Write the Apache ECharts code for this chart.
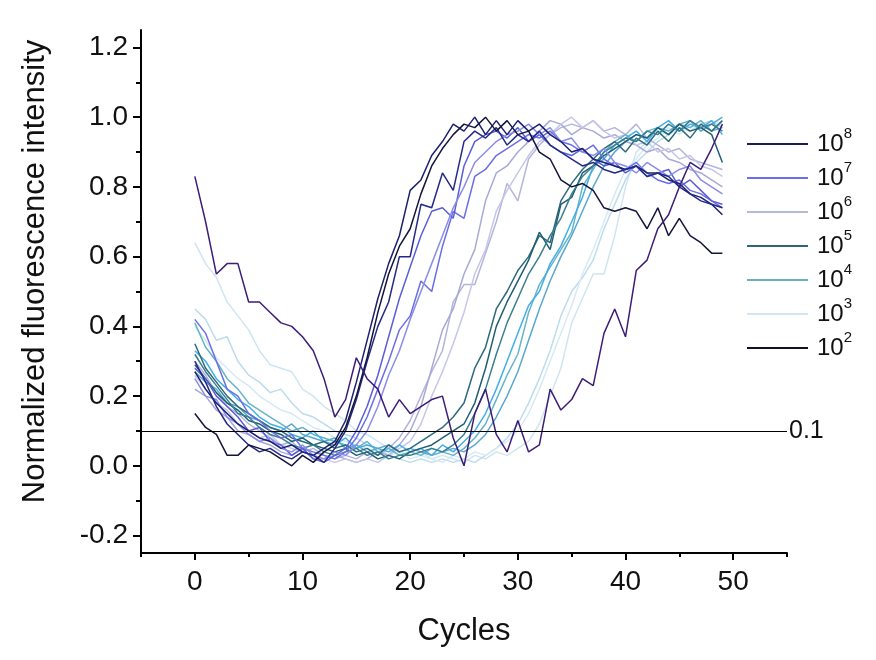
<!DOCTYPE html>
<html>
<head>
<meta charset="utf-8">
<script src="https://cdn.jsdelivr.net/npm/echarts@6/dist/echarts.min.js"></script>
<style>
html,body{margin:0;padding:0;background:#fff;}
#chart{width:876px;height:660px;}
</style>
</head>
<body>
<div id="chart"></div>
<script>
// ---- data ----
const cycles = [0,1,2,3,4,5,6,7,8,9,10,11,12,13,14,15,16,17,18,19,20,21,22,23,24,25,26,27,28,29,30,31,32,33,34,35,36,37,38,39,40,41,42,43,44,45,46,47,48,49];
const legendNames = ['10^8','10^7','10^6','10^5','10^4','10^3','10^2'];
const xTickLabels = [0,10,20,30,40,50];
const xMinorTicks = [-5,5,15,25,35,45,55];
const yTickLabels = [-0.2,0,0.2,0.4,0.6,0.8,1.0,1.2];
const yMinorTicks = [-0.1,0.1,0.3,0.5,0.7,0.9,1.1];
const threshold = 0.1;
const thresholdLabel = '0.1';

// 10^8 replicates
const r8a = [0.27,0.22,0.18,0.15,0.12,0.10,0.08,0.07,0.05,0.06,0.04,0.03,0.05,0.07,0.13,0.24,0.36,0.48,0.58,0.66,0.79,0.82,0.89,0.93,0.98,0.96,1.00,0.95,0.99,0.95,0.99,0.96,0.98,0.95,0.93,0.90,0.91,0.88,0.87,0.86,0.85,0.86,0.84,0.84,0.82,0.81,0.78,0.77,0.75,0.72];
const r8b = [0.30,0.24,0.17,0.12,0.09,0.06,0.04,0.05,0.03,0.02,0.04,0.03,0.01,0.05,0.10,0.19,0.30,0.40,0.47,0.60,0.60,0.75,0.74,0.84,0.79,0.93,0.96,0.94,0.97,0.92,0.95,0.93,0.96,0.92,0.90,0.88,0.86,0.87,0.85,0.84,0.85,0.86,0.83,0.84,0.83,0.80,0.78,0.76,0.75,0.74];
// 10^7 replicates
const r7a = [0.42,0.38,0.30,0.22,0.20,0.15,0.13,0.10,0.08,0.09,0.05,0.04,0.03,0.02,0.04,0.08,0.14,0.22,0.30,0.39,0.43,0.53,0.50,0.63,0.73,0.71,0.83,0.85,0.89,0.91,0.93,0.95,0.94,0.96,0.93,0.92,0.90,0.92,0.88,0.86,0.85,0.87,0.84,0.82,0.81,0.82,0.79,0.78,0.76,0.74];
const r7b = [0.28,0.25,0.20,0.17,0.14,0.10,0.11,0.07,0.06,0.03,0.05,0.02,0.01,0.03,0.05,0.10,0.17,0.26,0.37,0.48,0.57,0.66,0.73,0.74,0.71,0.86,0.93,0.95,0.96,0.94,0.97,0.93,0.95,0.92,0.90,0.89,0.91,0.88,0.86,0.87,0.84,0.86,0.83,0.84,0.85,0.80,0.82,0.79,0.76,0.75];
const r7c = [0.25,0.20,0.19,0.14,0.12,0.09,0.07,0.08,0.05,0.04,0.06,0.03,0.02,0.04,0.03,0.06,0.10,0.17,0.26,0.33,0.42,0.50,0.58,0.66,0.74,0.80,0.87,0.90,0.93,0.95,0.96,0.98,0.95,0.97,0.93,0.94,0.90,0.89,0.91,0.87,0.86,0.84,0.87,0.85,0.83,0.85,0.86,0.82,0.80,0.78];
// 10^6 replicates
const r6a = [0.30,0.26,0.21,0.17,0.15,0.12,0.10,0.08,0.06,0.07,0.04,0.05,0.03,0.02,0.03,0.02,0.04,0.03,0.05,0.08,0.13,0.20,0.27,0.33,0.47,0.52,0.52,0.61,0.70,0.81,0.76,0.88,0.92,0.95,0.97,0.98,0.97,0.99,0.96,0.97,0.95,0.98,0.94,0.92,0.90,0.91,0.88,0.87,0.86,0.85];
const r6b = [0.22,0.20,0.16,0.14,0.10,0.09,0.07,0.06,0.04,0.03,0.05,0.02,0.02,0.03,0.02,0.01,0.02,0.04,0.03,0.06,0.10,0.17,0.28,0.39,0.45,0.55,0.62,0.76,0.84,0.86,0.90,0.93,0.96,0.99,0.98,0.95,0.97,0.96,0.94,0.95,0.93,0.92,0.90,0.91,0.88,0.87,0.85,0.84,0.82,0.80];
const r6c = [0.26,0.22,0.18,0.16,0.12,0.10,0.08,0.09,0.06,0.05,0.04,0.03,0.02,0.01,0.02,0.01,0.02,0.01,0.03,0.05,0.07,0.12,0.20,0.27,0.35,0.44,0.55,0.62,0.73,0.79,0.84,0.89,0.93,0.95,0.98,1.00,0.97,0.99,0.96,0.94,0.95,0.92,0.93,0.90,0.91,0.88,0.89,0.86,0.85,0.83];
// 10^5 replicates
const r5a = [0.35,0.28,0.24,0.20,0.17,0.15,0.13,0.11,0.10,0.08,0.07,0.06,0.07,0.05,0.06,0.04,0.05,0.03,0.06,0.04,0.05,0.07,0.09,0.11,0.14,0.18,0.28,0.34,0.45,0.50,0.56,0.60,0.66,0.64,0.76,0.81,0.85,0.88,0.91,0.93,0.90,0.94,0.92,0.96,0.93,0.97,0.94,0.98,0.96,0.99];
const r5b = [0.29,0.25,0.21,0.18,0.16,0.13,0.12,0.10,0.09,0.07,0.08,0.06,0.05,0.04,0.05,0.03,0.04,0.02,0.03,0.02,0.04,0.05,0.06,0.08,0.10,0.12,0.18,0.28,0.40,0.47,0.53,0.59,0.67,0.62,0.75,0.77,0.84,0.86,0.89,0.91,0.93,0.95,0.94,0.97,0.95,0.98,0.96,0.97,0.95,0.87];
const r5c = [0.32,0.27,0.23,0.19,0.15,0.14,0.11,0.09,0.08,0.06,0.05,0.06,0.04,0.03,0.04,0.05,0.03,0.04,0.02,0.03,0.03,0.04,0.05,0.04,0.06,0.09,0.15,0.22,0.32,0.41,0.48,0.55,0.60,0.66,0.71,0.78,0.83,0.86,0.90,0.92,0.94,0.93,0.96,0.95,0.98,0.96,0.99,0.97,0.98,0.96];
// 10^4 replicates
const r4a = [0.41,0.34,0.30,0.25,0.22,0.18,0.16,0.14,0.12,0.10,0.11,0.09,0.08,0.07,0.06,0.05,0.07,0.04,0.05,0.03,0.04,0.03,0.05,0.04,0.03,0.05,0.08,0.12,0.19,0.26,0.32,0.44,0.52,0.57,0.62,0.67,0.80,0.85,0.90,0.93,0.95,0.93,0.96,0.97,0.95,0.98,0.97,0.99,0.96,0.97];
const r4b = [0.33,0.30,0.25,0.22,0.19,0.17,0.14,0.12,0.11,0.09,0.08,0.10,0.07,0.06,0.08,0.05,0.06,0.05,0.04,0.06,0.04,0.05,0.03,0.06,0.04,0.07,0.10,0.15,0.22,0.30,0.38,0.46,0.50,0.58,0.63,0.70,0.77,0.86,0.88,0.92,0.94,0.96,0.93,0.97,0.99,0.96,0.98,0.97,0.99,0.95];
const r4c = [0.27,0.24,0.22,0.18,0.17,0.14,0.13,0.11,0.10,0.12,0.09,0.08,0.07,0.08,0.05,0.06,0.04,0.05,0.06,0.04,0.05,0.04,0.03,0.04,0.05,0.04,0.06,0.09,0.14,0.20,0.27,0.36,0.45,0.53,0.60,0.66,0.73,0.80,0.86,0.90,0.93,0.95,0.94,0.97,0.96,0.98,0.99,0.96,0.98,1.00];
// 10^3 replicates
const r3a = [0.64,0.58,0.54,0.47,0.43,0.39,0.33,0.29,0.28,0.27,0.22,0.20,0.17,0.15,0.13,0.10,0.09,0.07,0.05,0.04,0.03,0.04,0.02,0.03,0.02,0.01,0.03,0.02,0.04,0.03,0.05,0.07,0.12,0.20,0.28,0.41,0.48,0.55,0.55,0.66,0.80,0.90,0.93,0.96,0.95,0.98,0.97,0.99,0.96,0.98];
const r3b = [0.45,0.42,0.36,0.37,0.30,0.26,0.24,0.21,0.22,0.18,0.15,0.14,0.12,0.10,0.09,0.08,0.06,0.05,0.03,0.02,0.01,0.02,0.01,0.02,0.01,0.02,0.01,0.03,0.05,0.08,0.12,0.18,0.25,0.33,0.43,0.50,0.54,0.59,0.68,0.75,0.82,0.87,0.90,0.93,0.95,0.97,0.96,0.98,0.99,0.97];
const r3c = [0.40,0.36,0.31,0.28,0.25,0.23,0.20,0.18,0.16,0.15,0.13,0.11,0.10,0.08,0.07,0.06,0.05,0.04,0.03,0.04,0.02,0.03,0.02,0.01,0.03,0.02,0.04,0.03,0.05,0.07,0.10,0.15,0.22,0.30,0.38,0.46,0.55,0.62,0.70,0.78,0.85,0.88,0.92,0.94,0.97,0.95,0.98,0.96,0.99,0.98];
// 10^2 replicates
const r2a = [0.15,0.11,0.09,0.03,0.03,0.06,0.05,0.04,0.02,0.00,0.03,0.01,0.04,0.06,0.11,0.20,0.31,0.44,0.55,0.63,0.68,0.78,0.86,0.91,0.95,0.98,0.97,1.00,0.96,0.99,0.95,0.96,0.90,0.88,0.82,0.80,0.81,0.79,0.74,0.73,0.74,0.73,0.68,0.74,0.66,0.71,0.66,0.64,0.61,0.61];
const r2b = [0.83,0.70,0.55,0.58,0.58,0.47,0.47,0.44,0.41,0.40,0.37,0.33,0.25,0.14,0.19,0.31,0.25,0.22,0.14,0.19,0.15,0.17,0.19,0.20,0.08,0.00,0.15,0.22,0.09,0.04,0.13,0.04,0.06,0.22,0.16,0.19,0.25,0.23,0.38,0.45,0.37,0.56,0.59,0.68,0.72,0.80,0.87,0.85,0.91,0.98];

// ---- styles ----
const legendColors = {'10^8':'#161c5c','10^7':'#6a6ef0','10^6':'#b8b8d8','10^5':'#2e6878','10^4':'#6ab0c0','10^3':'#d0e6f0','10^2':'#10102e'};
const FONT = '"Liberation Sans", Arial, sans-serif';

// drawing order (back to front)
const seriesDefs = [
  {name:'10^3', values:r3a, color:'#cfe5f0'},
  {name:'10^3', values:r3b, color:'#bcdcee'},
  {name:'10^3', values:r3c, color:'#d6eaf3'},
  {name:'10^6', values:r6a, color:'#b4b4dc'},
  {name:'10^6', values:r6b, color:'#a8a9d6'},
  {name:'10^6', values:r6c, color:'#c6c6e8'},
  {name:'10^4', values:r4a, color:'#66b4c8'},
  {name:'10^4', values:r4b, color:'#44aee8'},
  {name:'10^4', values:r4c, color:'#58a8d0'},
  {name:'10^5', values:r5a, color:'#2c6a7c'},
  {name:'10^5', values:r5b, color:'#1f5f74'},
  {name:'10^5', values:r5c, color:'#3a7f8e'},
  {name:'10^7', values:r7a, color:'#6b6fe6'},
  {name:'10^7', values:r7b, color:'#5a5fd8'},
  {name:'10^7', values:r7c, color:'#8a8de8'},
  {name:'10^8', values:r8a, color:'#1b2070'},
  {name:'10^8', values:r8b, color:'#232a88'},
  {name:'10^2', values:r2a, color:'#14143c'},
  {name:'10^2', values:r2b, color:'#3d1d78'}
];

const series = seriesDefs.map(function(d, i){
  const s = {
    type:'line', name:d.name, xAxisIndex:0, yAxisIndex:0,
    data: cycles.map(function(c, k){ return [c, d.values[k]]; }),
    symbol:'none', showSymbol:false, silent:true,
    lineStyle:{color:d.color, width:1.5},
    itemStyle:{color:d.color},
    emphasis:{disabled:true}, animation:false, z:2
  };
  if (i === 0) {
    s.markLine = {
      silent:true, symbol:['none','none'], animation:false,
      lineStyle:{color:'#000', width:1, type:'solid'},
      label:{show:true, position:'end', formatter:thresholdLabel, fontSize:25, fontFamily:FONT, color:'#111', distance:2},
      data:[{yAxis:threshold}]
    };
  }
  return s;
});

const chart = echarts.init(document.getElementById('chart'), null, {renderer:'canvas'});
chart.setOption({
  animation:false,
  backgroundColor:'#fff',
  textStyle:{fontFamily:FONT},
  grid:{left:141, right:89, top:30, bottom:107, containLabel:false, outerBoundsMode:'none'},
  legend:{
    orient:'vertical', left:742, top:121, itemGap:4,
    icon:'rect', itemWidth:61, itemHeight:2,
    selectedMode:false,
    data: legendNames.map(function(n){ return {name:n, itemStyle:{color:legendColors[n]}}; }),
    formatter:function(n){ const p = n.split('^'); return '{b|' + p[0] + '}{s|' + p[1] + '}'; },
    textStyle:{
      padding:[0,0,6,4],
      rich:{
        b:{fontSize:24, fontFamily:FONT, color:'#111', lineHeight:30, verticalAlign:'bottom'},
        s:{fontSize:15, fontFamily:FONT, color:'#111', lineHeight:15, verticalAlign:'top'}
      }
    }
  },
  xAxis:[
    {
      type:'value', min:-5, max:55, position:'bottom',
      name:'Cycles', nameLocation:'middle', nameGap:63,
      nameTextStyle:{fontSize:31, fontFamily:FONT, color:'#111'},
      axisLine:{show:true, onZero:false, lineStyle:{color:'#000', width:2}},
      axisTick:{show:true, length:7, lineStyle:{color:'#000', width:2}, customValues:xTickLabels},
      axisLabel:{show:true, customValues:xTickLabels, fontSize:28, fontFamily:FONT, color:'#111', margin:15},
      splitLine:{show:false}
    },
    {
      type:'value', min:-5, max:55, position:'bottom', offset:0,
      axisLine:{show:false, onZero:false},
      axisTick:{show:true, length:4, lineStyle:{color:'#000', width:2}, customValues:xMinorTicks},
      axisLabel:{show:false},
      splitLine:{show:false}
    }
  ],
  yAxis:[
    {
      type:'value', min:-0.25, max:1.25, position:'left',
      name:'Normalized fluorescence intensity', nameLocation:'middle', nameGap:90,
      nameTextStyle:{fontSize:31, fontFamily:FONT, color:'#111', padding:[0,0,0,40]},
      axisLine:{show:true, onZero:false, lineStyle:{color:'#000', width:2}},
      axisTick:{show:true, length:8, lineStyle:{color:'#000', width:2}, customValues:yTickLabels},
      axisLabel:{show:true, customValues:yTickLabels, fontSize:28, fontFamily:FONT, color:'#111', margin:13,
        formatter:function(v){ return v.toFixed(1); }},
      splitLine:{show:false}
    },
    {
      type:'value', min:-0.25, max:1.25, position:'left', offset:0,
      axisLine:{show:false, onZero:false},
      axisTick:{show:true, length:5, lineStyle:{color:'#000', width:2}, customValues:yMinorTicks},
      axisLabel:{show:false},
      splitLine:{show:false}
    }
  ],
  series: series
});
</script>
</body>
</html>
